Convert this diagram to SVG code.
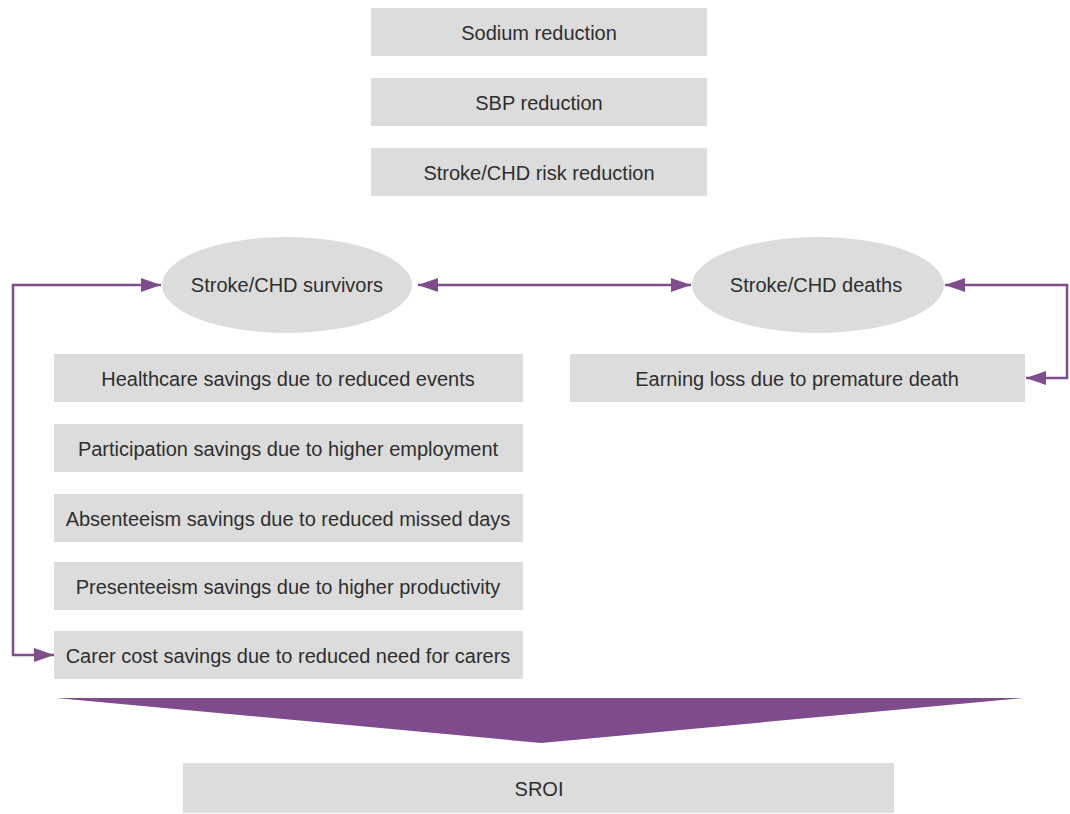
<svg xmlns="http://www.w3.org/2000/svg" width="1070" height="814" viewBox="0 0 1070 814">
<style>
.box{fill:#dcdcdc}
.t{font-family:"Liberation Sans",Arial,sans-serif;font-size:20px;fill:#2e2e2e;text-anchor:middle;dominant-baseline:central}
.c{fill:none;stroke:#7f4c8c;stroke-width:2.5}
</style>
<defs>
<marker id="a" viewBox="0 0 20 14" refX="20" refY="7" markerWidth="20" markerHeight="14" markerUnits="userSpaceOnUse" orient="auto-start-reverse">
<path d="M0,0 L20,7 L0,14 Z" fill="#7f4c8c"/>
</marker>
</defs>
<rect width="1070" height="814" fill="#ffffff"/>
<g id="sodium"><rect class="box" x="371" y="8" width="336" height="48"/><text class="t" x="539" y="33">Sodium reduction</text></g>
<g id="sbp"><rect class="box" x="371" y="78" width="336" height="48"/><text class="t" x="539" y="103">SBP reduction</text></g>
<g id="risk"><rect class="box" x="371" y="148" width="336" height="48"/><text class="t" x="539" y="173">Stroke/CHD risk reduction</text></g>
<g id="survivors"><ellipse class="box" cx="287" cy="285" rx="125" ry="48"/><text class="t" x="287" y="285">Stroke/CHD survivors</text></g>
<g id="deaths"><ellipse class="box" cx="818" cy="285" rx="126" ry="48"/><text class="t" x="816" y="285">Stroke/CHD deaths</text></g>
<g id="healthcare"><rect class="box" x="54" y="354" width="469" height="48"/><text class="t" x="288" y="379">Healthcare savings due to reduced events</text></g>
<g id="participation"><rect class="box" x="54" y="424" width="469" height="48"/><text class="t" x="288" y="449">Participation savings due to higher employment</text></g>
<g id="absenteeism"><rect class="box" x="54" y="494" width="469" height="48"/><text class="t" x="288" y="519">Absenteeism savings due to reduced missed days</text></g>
<g id="presenteeism"><rect class="box" x="54" y="562" width="469" height="48"/><text class="t" x="288" y="587">Presenteeism savings due to higher productivity</text></g>
<g id="carer"><rect class="box" x="54" y="631" width="469" height="48"/><text class="t" x="288" y="656">Carer cost savings due to reduced need for carers</text></g>
<g id="earning"><rect class="box" x="570" y="354" width="455" height="48"/><text class="t" x="797" y="379">Earning loss due to premature death</text></g>
<g id="funnel"><polygon points="56,698 1023,698 541,743" fill="#7f4b8c"/></g>
<g id="sroi"><rect class="box" x="183" y="763" width="711" height="50"/><text class="t" x="539" y="789">SROI</text></g>
<g id="connectors">
<polyline class="c" points="54,655 13,655 13,285 161,285" marker-start="url(#a)" marker-end="url(#a)"/>
<line class="c" x1="418" y1="285" x2="691" y2="285" marker-start="url(#a)" marker-end="url(#a)"/>
<polyline class="c" points="945,285 1067,285 1067,378 1026,378" marker-start="url(#a)" marker-end="url(#a)"/>
</g>
</svg>
